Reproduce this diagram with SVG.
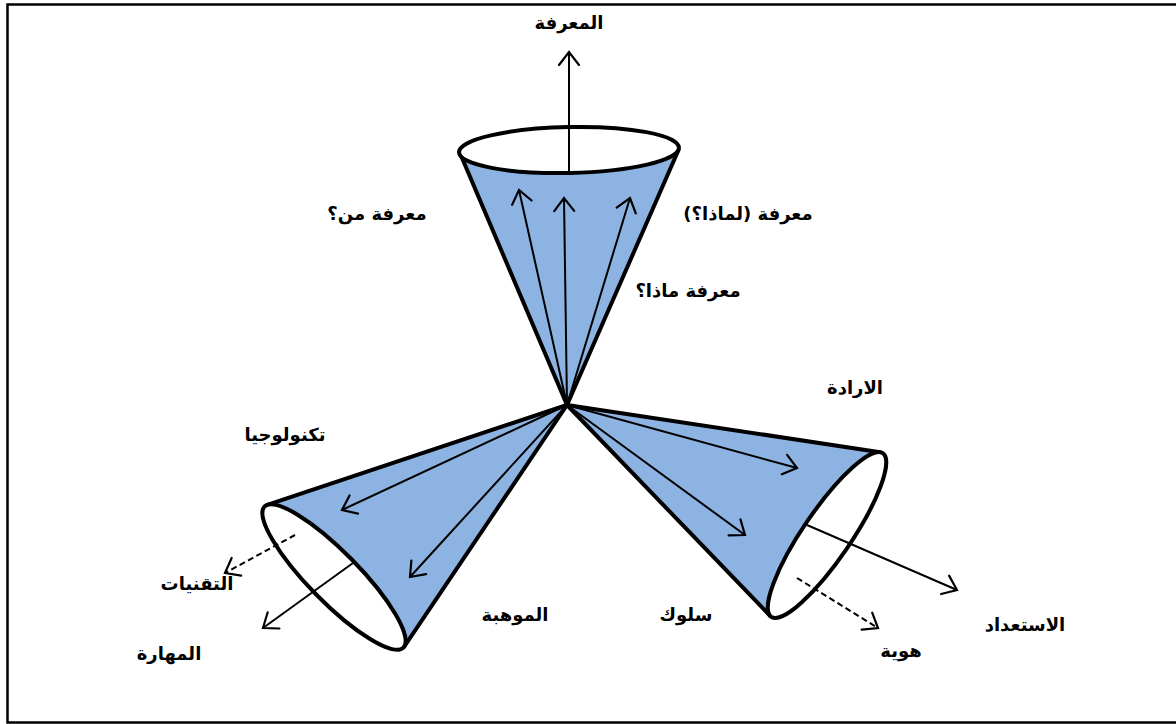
<svg xmlns="http://www.w3.org/2000/svg" width="1176" height="724" viewBox="0 0 1176 724">
  <style>
    .body { fill: #8db3e2; stroke: none; }
    .edge { stroke: #000; stroke-width: 4; stroke-linecap: round; fill: none; }
    .base { fill: #fff; stroke: #000; stroke-width: 4; }
    .arr { stroke: #000; stroke-width: 2; fill: none; marker-end: url(#head); }
    .dash { stroke-dasharray: 6 3.5; }
    .lbl { font-family: "DejaVu Sans", sans-serif; font-size: 18px; font-weight: bold; fill: #000; text-anchor: middle; }
  </style>
  <defs>
    <marker id="head" markerUnits="userSpaceOnUse" viewBox="-15 -12 17 24" refX="0" refY="0" markerWidth="17" markerHeight="24" orient="auto" overflow="visible">
      <path d="M-13,-10 L0,0 L-13,10" fill="none" stroke="#000" stroke-width="2.2" stroke-linecap="round" stroke-linejoin="miter"/>
    </marker>
  </defs>
  <rect width="1176" height="724" fill="#fff"/>
  <rect x="7.5" y="4.5" width="1180" height="718" fill="none" stroke="#000" stroke-width="2.5"/>

  <g id="cone-top">
    <polygon class="body" points="567,405 459.5,152 678.5,150"/>
    <line class="edge" x1="567" y1="405" x2="459.5" y2="152"/>
    <line class="edge" x1="567" y1="405" x2="678.5" y2="150"/>
    <ellipse class="base" cx="569" cy="150" rx="110" ry="23" transform="rotate(-1.2 569 150)"/>
  </g>

  <g id="cone-left">
    <polygon class="body" points="567,405 267.3,504.8 404.2,646.6"/>
    <line class="edge" x1="567" y1="405" x2="267.3" y2="504.8"/>
    <line class="edge" x1="567" y1="405" x2="404.2" y2="646.6"/>
    <ellipse class="base" cx="334" cy="577" rx="99" ry="25" transform="rotate(45.5 334 577)"/>
  </g>

  <g id="cone-right">
    <polygon class="body" points="567,405 880.1,452.2 770.3,616"/>
    <line class="edge" x1="567" y1="405" x2="880.1" y2="452.2"/>
    <line class="edge" x1="567" y1="405" x2="770.3" y2="616"/>
    <ellipse class="base" cx="827" cy="535" rx="99" ry="24" transform="rotate(124.3 827 535)"/>
  </g>

  <g id="connectors">
    <line class="arr" x1="569" y1="173" x2="569" y2="52"/>
    <line class="arr" x1="567" y1="405" x2="519" y2="190"/>
    <line class="arr" x1="567" y1="405" x2="564" y2="198"/>
    <line class="arr" x1="567" y1="405" x2="630" y2="198"/>
    <line class="arr" x1="567" y1="405" x2="342" y2="510"/>
    <line class="arr" x1="567" y1="405" x2="410" y2="577"/>
    <line class="arr" x1="353" y1="563" x2="263" y2="628"/>
    <line class="arr dash" x1="295" y1="535" x2="225" y2="573"/>
    <line class="arr" x1="567" y1="405" x2="797" y2="468"/>
    <line class="arr" x1="567" y1="405" x2="745" y2="535"/>
    <line class="arr" x1="807" y1="525" x2="957" y2="590"/>
    <line class="arr dash" x1="797" y1="578" x2="878" y2="628"/>
  </g>

  <g id="label-knowledge"><text class="lbl" x="569" y="29">المعرفة</text></g>
  <g id="label-know-who"><text class="lbl" x="377" y="220">معرفة من؟</text></g>
  <g id="label-know-why"><text class="lbl" x="748" y="220">معرفة (لماذا؟)</text></g>
  <g id="label-know-what"><text class="lbl" x="688" y="297">معرفة ماذا؟</text></g>
  <g id="label-will"><text class="lbl" x="855" y="394">الارادة</text></g>
  <g id="label-technology"><text class="lbl" x="285" y="441">تكنولوجيا</text></g>
  <g id="label-techniques"><text class="lbl" x="197" y="590">التقنيات</text></g>
  <g id="label-skill"><text class="lbl" x="169" y="660">المهارة</text></g>
  <g id="label-talent"><text class="lbl" x="515" y="621">الموهبة</text></g>
  <g id="label-behavior"><text class="lbl" x="686" y="621">سلوك</text></g>
  <g id="label-readiness"><text class="lbl" x="1025" y="631">الاستعداد</text></g>
  <g id="label-identity"><text class="lbl" x="901" y="657">هوية</text></g>
</svg>
